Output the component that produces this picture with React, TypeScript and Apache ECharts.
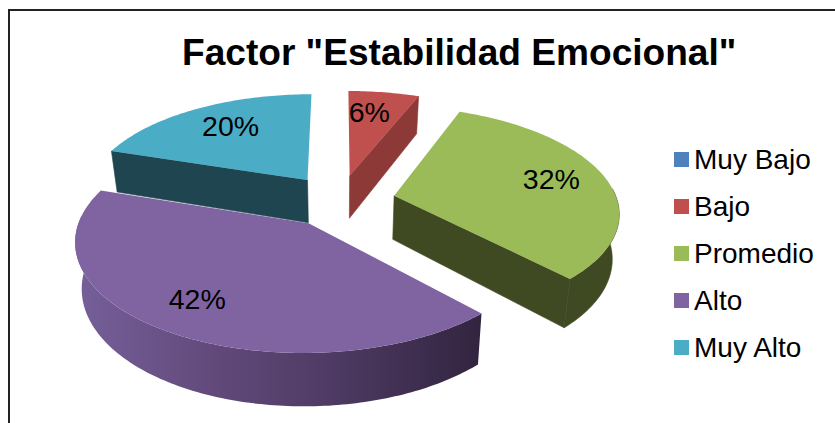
import React, { useEffect, useRef } from "react";
import * as echarts from "echarts";

const categories = ["Muy Bajo", "Bajo", "Promedio", "Alto", "Muy Alto"];
const percentages = [0, 6, 32, 42, 20];
const topColors = ["#4f81bd", "#c0504d", "#9bbb59", "#8064a2", "#4bacc6"];
const wallColors = ["#2a4565", "#8c3937", "#3f4a23", "#5a4272", "#1f4551"];
const titleText = 'Factor "Estabilidad Emocional"';

// projection of the exploded, tilted pie
const CX = 339.5, CY = 200.5, RADIUS = 223, EXPLODE = 56, TILT = 0.465, PERSP = 0.00065;
const DEPTH = 44, BOTTOM_SHRINK = 0.975, LABEL_DIST = 165;
// small label adjustments per slice, in pixels
const labelNudgeX = [0, -6.5, 0.5, -7.5, 7.5];
const labelNudgeY = [0, 0, -3, 0, 0];

function project(px: number, py: number, bottom: boolean): number[] {
  const s = 1 / (1 - PERSP * py);
  const x = px * s;
  const y = TILT * py * s;
  return bottom
    ? [CX + x * BOTTOM_SHRINK, CY + y + DEPTH * s]
    : [CX + x, CY + y];
}

function renderSlice(index: number) {
  return (_params: any, api: any) => {
    const value = api.value(0);
    if (!value) return { type: "group", children: [] };
    const total = percentages.reduce((a, b) => a + b, 0);
    const before = percentages.slice(0, index).reduce((a, b) => a + b, 0);
    const a0 = (before / total) * Math.PI * 2;
    const a1 = ((before + value) / total) * Math.PI * 2;
    const mid = (a0 + a1) / 2;
    const ex = EXPLODE * Math.sin(mid);
    const ey = -EXPLODE * Math.cos(mid);
    const steps = Math.max(4, Math.ceil(((a1 - a0) * 180) / Math.PI));
    const rim: number[][] = [];
    const angles: number[] = [];
    for (let i = 0; i <= steps; i++) {
      const a = a0 + ((a1 - a0) * i) / steps;
      angles.push(a);
      rim.push([ex + RADIUS * Math.sin(a), ey - RADIUS * Math.cos(a)]);
    }
    const topRim = rim.map((p) => project(p[0], p[1], false));
    const botRim = rim.map((p) => project(p[0], p[1], true));
    const apexTop = project(ex, ey, false);
    const apexBot = project(ex, ey, true);
    const flat = { fill: wallColors[index], stroke: wallColors[index], lineWidth: 0.6 };
    const curved =
      index === 3
        ? {
            fill: new echarts.graphic.LinearGradient(
              75, 0, 483, 0,
              [
                { offset: 0, color: "#76609a" },
                { offset: 0.3, color: "#644c7e" },
                { offset: 0.6, color: "#503c66" },
                { offset: 1, color: "#32243f" },
              ],
              true
            ),
          }
        : flat;
    // only the faces turned to the viewer are drawn
    const front = angles.map((a) => Math.cos(a) < 0.08);
    const frontTop = topRim.filter((_, i) => front[i]);
    const frontBot = botRim.filter((_, i) => front[i]);
    const children: any[] = [];
    if (Math.sin(a0) < -0.01) {
      children.push({ type: "polygon", z2: 1, shape: { points: [apexTop, topRim[0], botRim[0], apexBot] }, style: flat });
    }
    if (Math.sin(a1) > 0.01) {
      children.push({ type: "polygon", z2: 1, shape: { points: [apexTop, topRim[steps], botRim[steps], apexBot] }, style: flat });
    }
    if (frontTop.length > 1) {
      children.push({ type: "polygon", z2: 2, shape: { points: frontTop.concat(frontBot.slice().reverse()) }, style: curved });
    }
    children.push({ type: "polygon", z2: 3, shape: { points: [apexTop].concat(topRim) }, style: { fill: topColors[index] } });
    const lp = project(ex + LABEL_DIST * Math.sin(mid), ey - LABEL_DIST * Math.cos(mid), false);
    children.push({
      type: "text",
      z2: 4,
      style: {
        text: value + "%",
        x: lp[0] + labelNudgeX[index],
        y: lp[1] + labelNudgeY[index],
        textAlign: "center",
        textVerticalAlign: "middle",
        fill: "#000",
        fontSize: 28.5,
        fontFamily: "Liberation Sans",
      },
    });
    return { type: "group", children };
  };
}

// back-to-front painting order of the slices
const paintOrder: Record<string, number> = { "Muy Bajo": 1, "Muy Alto": 2, Bajo: 3, Promedio: 4, Alto: 5 };

export default function App() {
  const ref = useRef<HTMLDivElement>(null);
  useEffect(() => {
    document.body.style.margin = "0";
    const chart = echarts.init(ref.current!, undefined, { renderer: "svg" });
    chart.setOption({
      animation: false,
      backgroundColor: "#fff",
      title: {
        text: titleText,
        left: 182,
        top: 33,
        textStyle: { fontFamily: "Liberation Sans", fontWeight: "bold", fontSize: 37.1, color: "#000" },
        padding: 0,
      },
      legend: {
        orient: "vertical",
        left: 674,
        top: 145.5,
        icon: "rect",
        itemWidth: 15,
        itemHeight: 15,
        itemGap: 19,
        padding: 0,
        selectedMode: false,
        data: categories,
        textStyle: { fontFamily: "Liberation Sans", fontSize: 28, color: "#000" },
      },
      graphic: [
        { type: "line", shape: { x1: 8, y1: 10, x2: 835, y2: 10 }, style: { stroke: "#222", lineWidth: 2 } },
        { type: "line", shape: { x1: 9, y1: 10, x2: 9, y2: 423 }, style: { stroke: "#222", lineWidth: 2 } },
      ],
      series: categories.map((name, i) => ({
        type: "custom",
        name,
        coordinateSystem: "none",
        z: paintOrder[name],
        itemStyle: { color: topColors[i] },
        data: [[percentages[i]]],
        renderItem: renderSlice(i),
      })),
    });
    return () => chart.dispose();
  }, []);
  return <div ref={ref} style={{ position: "absolute", left: 0, top: 0, width: 835, height: 423 }} />;
}
